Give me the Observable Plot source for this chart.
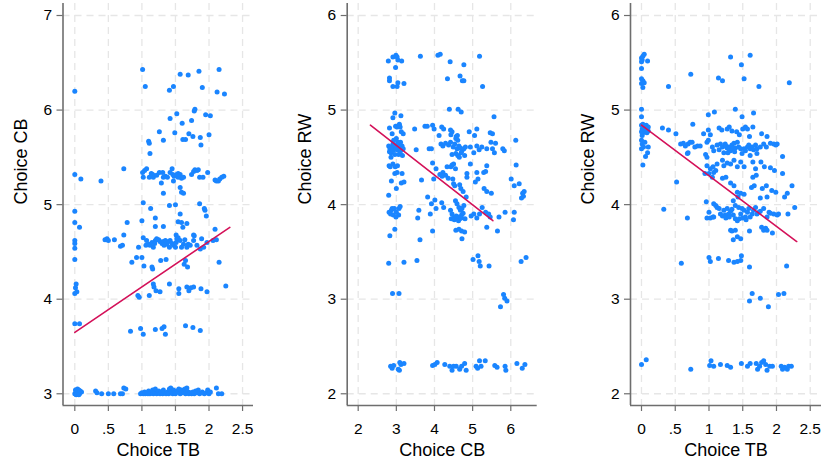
<!DOCTYPE html>
<html><head><meta charset="utf-8">
<script src="https://cdn.jsdelivr.net/npm/d3@7"></script>
<script src="https://cdn.jsdelivr.net/npm/@observablehq/plot@0.6"></script>
<style>
html,body{margin:0;padding:0;background:#fff;}
#chart{position:relative;width:823px;height:468px;overflow:hidden;background:#fff;}
#chart > div{position:absolute;top:0;}
</style></head><body><div id="chart"></div>
<script>
// ---- Panel 1: Choice TB (x) vs Choice CB (y)
const panel1_TB_CB = [
[1.01,6.43],[1.05,6.25],[1.57,6.38],[1.69,6.37],[1.85,6.41],[2.15,6.43],[1.41,6.21],[1.47,6.25],[1.90,6.24],[2.12,6.19],[2.23,6.17],[0,6.20],
[1.78,5.99],[1.79,6.01],[1.52,5.96],[1.95,5.95],[2.02,5.94],[1.42,5.91],[1.74,5.89],[1.60,5.86],[1.26,5.77],[1.49,5.76],[1.70,5.75],[1.76,5.72],[2.00,5.74],[1.87,5.71],[1.32,5.68],[1.10,5.67],[1.11,5.65],[1.61,5.69],[1.65,5.69],[1.88,5.63],[1.12,5.54],
[0.73,5.38],[0,5.32],[0.09,5.27],[0.39,5.25],
[1.01,5.34],[1.02,5.29],[1.04,5.36],[1.07,5.38],[1.11,5.29],[1.14,5.33],[1.16,5.32],[1.17,5.29],[1.22,5.31],[1.26,5.34],[1.29,5.23],[1.31,5.34],[1.32,5.29],[1.35,5.30],[1.38,5.29],[1.42,5.34],[1.45,5.38],[1.46,5.32],[1.47,5.25],[1.48,5.30],[1.52,5.32],[1.54,5.33],[1.57,5.32],[1.59,5.28],[1.62,5.29],[1.74,5.32],[1.77,5.35],[1.79,5.37],[1.82,5.36],[1.84,5.37],[1.86,5.29],[1.91,5.29],[1.98,5.34],[2.09,5.26],[2.11,5.25],[2.14,5.25],[2.16,5.27],[2.19,5.29],[2.22,5.30],[1.32,5.12],[1.57,5.18],[1.59,5.13],[1.62,5.12],[1.54,5.29],
[1.02,5.02],[1.50,5.00],[1.41,4.99],[1.86,5.01],[1.93,4.96],[1.94,4.94],[0,4.93],[1.13,4.96],[1.57,4.90],[1.20,4.86],[1.96,4.88],[1.00,4.83],[0.78,4.81],[0,4.81],[0.07,4.76],[1.54,4.82],[1.59,4.81],[1.67,4.80],[1.61,4.76],[1.32,4.77],[1.20,4.77],[2.09,4.74],[0.73,4.68],[1.77,4.68],[1.78,4.67],[1.51,4.68],[1.89,4.64],
[0.45,4.63],[0.48,4.64],[0.50,4.62],[0.59,4.63],[0.68,4.56],[0.71,4.57],[0.95,4.55],[0,4.62],[0,4.59],[0,4.54],
[1.02,4.65],[1.07,4.62],[1.10,4.58],[1.12,4.57],[1.15,4.60],[1.17,4.55],[1.20,4.62],[1.22,4.64],[1.25,4.63],[1.27,4.61],[1.30,4.59],[1.32,4.61],[1.35,4.62],[1.37,4.58],[1.40,4.61],[1.42,4.62],[1.45,4.59],[1.47,4.57],[1.50,4.55],[1.52,4.64],[1.54,4.65],[1.57,4.62],[1.62,4.58],[1.64,4.63],[1.67,4.55],[1.69,4.58],[1.72,4.57],[1.77,4.62],[1.82,4.57],[1.87,4.53],[1.92,4.55],[1.97,4.60],[2.06,4.62],[2.11,4.63],[1.06,4.57],[1.19,4.59],[1.33,4.57],[1.41,4.55],[1.51,4.60],[1.59,4.55],
[0,4.42],[0.85,4.39],[0.92,4.44],[1.00,4.44],[1.03,4.35],[1.15,4.34],[1.16,4.32],[1.28,4.41],[1.36,4.42],[1.65,4.41],[1.63,4.37],[1.68,4.34],[2.15,4.39],
[0.02,4.16],[0.01,4.12],[0.03,4.08],[0,4.06],[1.17,4.16],[1.18,4.13],[1.21,4.09],[1.27,4.08],[1.41,4.16],[1.55,4.11],[1.55,4.06],[1.67,4.13],[1.70,4.09],[1.73,4.12],[1.77,4.13],[1.88,4.11],[1.97,4.08],[2.25,4.14],[0.94,4.04],[0.96,4.02],[1.11,4.04],
[0,3.74],[0.07,3.74],[0.83,3.66],[0.98,3.69],[1.02,3.63],[1.20,3.68],[1.30,3.69],[1.33,3.71],[1.35,3.63],[1.65,3.72],[1.76,3.70],[1.87,3.67],
[0,3.00],[0.01,3.04],[0.02,3.02],[0.03,3.00],[0.04,3.05],[0.05,3.02],[0.06,3.04],[0.07,3.00],[0.08,3.03],[0.10,3.02],[0.02,2.99],[0.06,2.99],
[0.31,3.03],[0.33,3.01],[0.40,3.00],[0.50,3.00],[0.58,3.00],[0.68,3.00],[0.71,3.00],[0.73,3.06],[0.76,3.05],
[0.98,3.00],[1.00,3.01],[1.02,3.00],[1.04,3.02],[1.05,3.00],[1.07,3.01],[1.09,3.00],[1.10,3.03],[1.12,3.00],[1.14,3.01],[1.16,3.04],[1.17,3.00],[1.19,3.02],[1.20,3.05],[1.22,3.00],[1.24,3.01],[1.25,3.03],[1.27,3.00],[1.29,3.02],[1.31,3.00],[1.32,3.04],[1.34,3.01],[1.36,3.00],[1.38,3.02],[1.40,3.00],[1.41,3.05],[1.43,3.06],[1.44,3.02],[1.46,3.00],[1.47,3.04],[1.49,3.01],[1.50,3.00],[1.52,3.03],[1.54,3.02],[1.55,3.05],[1.57,3.00],[1.59,3.04],[1.60,3.01],[1.62,3.03],[1.64,3.05],[1.65,3.00],[1.67,3.06],[1.69,3.02],[1.70,3.00],[1.72,3.01],[1.74,3.00],[1.76,3.02],[1.78,3.00],[1.80,3.03],[1.82,3.01],[1.84,3.04],[1.86,3.00],[1.90,3.02],[1.93,3.00],[1.96,3.01],[1.98,3.04],[2.00,3.00],[2.02,3.02],[2.11,3.06],[2.14,3.00],[2.19,3.00]
];
const fit1_TB = [0, 2.31];
const fit1_CB = [3.65, 4.76];

// ---- Panel 2: Choice CB (x) vs Choice RW (y)
const panel2_CB_RW = [
[2.79,5.52],[2.91,5.56],[2.99,5.58],[3.02,5.56],[3.04,5.53],[3.14,5.52],[2.98,5.45],[2.82,5.34],[2.82,5.31],[2.91,5.25],[3.02,5.25],[3.04,5.29],[3.20,5.28],[3.63,5.57],[4.09,5.58],[4.15,5.59],[4.41,5.51],[4.77,5.48],[4.34,5.33],[4.67,5.36],[4.73,5.31],[4.77,5.31],[5.18,5.57],[5.26,5.25],
[2.96,4.97],[2.91,4.92],[3.12,4.94],[4.39,5.01],[4.62,5.01],[4.70,4.98],[5.56,4.93],
[2.82,4.81],[2.98,4.83],[3.02,4.82],[3.06,4.83],[3.08,4.85],[3.10,4.82],[2.89,4.75],[3.13,4.77],[3.18,4.75],[3.48,4.80],[3.75,4.83],[3.81,4.83],[3.95,4.84],[3.99,4.80],[4.12,4.73],[4.19,4.82],[4.24,4.80],[4.42,4.79],[4.46,4.77],[4.43,4.74],[4.91,4.77],[5.05,4.73],[5.11,4.80],[5.46,4.76],[5.52,4.75],[4.57,4.72],[4.60,4.73],
[2.80,4.62],[2.83,4.59],[2.86,4.55],[2.88,4.61],[2.91,4.64],[2.93,4.58],[2.96,4.53],[2.99,4.61],[3.02,4.58],[3.05,4.64],[3.06,4.53],[3.08,4.61],[3.11,4.66],[3.13,4.58],[3.15,4.62],[3.16,4.52],[3.18,4.59],[2.86,4.50],[2.93,4.68],[3.00,4.70],[2.82,4.56],[2.95,4.63],[3.04,4.66],[3.10,4.55],[2.89,4.57],
[3.52,4.58],[3.86,4.59],[3.92,4.59],[4.17,4.64],[4.22,4.62],[4.29,4.65],[4.37,4.63],[4.42,4.66],[4.49,4.61],[4.53,4.64],[4.59,4.59],[4.64,4.62],[4.68,4.60],[4.70,4.55],[4.72,4.57],[4.77,4.59],[4.81,4.61],
[4.56,4.70],[4.61,4.68],[5.11,4.62],[5.17,4.58],[5.24,4.61],[5.37,4.59],[5.52,4.59],[5.57,4.55],[5.48,4.66],[5.60,4.65],[5.79,4.59],[5.83,4.57],[6.13,4.68],
[4.56,4.54],[4.61,4.52],[4.46,4.53],[4.65,4.50],[4.79,4.52],[4.94,4.61],[5.03,4.55],
[2.81,4.41],[2.84,4.40],[2.91,4.43],[2.97,4.40],[3.03,4.41],[2.96,4.33],[3.02,4.34],[3.15,4.33],[3.95,4.44],[4.04,4.38],[4.33,4.40],[4.43,4.40],[4.46,4.42],[4.50,4.43],[4.55,4.38],[4.94,4.43],[5.37,4.41],[5.29,4.34],[5.34,4.35],[6.14,4.42],[4.14,4.32],[4.22,4.34],[4.29,4.31],[4.85,4.33],[4.85,4.29],[5.11,4.34],
[2.87,4.25],[3.00,4.17],[3.13,4.23],[3.20,4.24],[3.66,4.26],[3.98,4.27],[4.20,4.30],[4.36,4.28],[4.48,4.27],[4.50,4.22],[4.53,4.20],[4.66,4.21],[4.69,4.17],[4.75,4.14],[4.83,4.08],[5.07,4.24],[5.14,4.27],[5.30,4.17],[5.37,4.14],[5.49,4.12],[6.01,4.27],[6.09,4.20],[6.22,4.22],[6.31,4.12],[6.35,4.14],[6.28,4.07],[6.33,4.09],[2.80,4.10],
[2.81,3.92],[2.85,3.90],[2.87,3.94],[2.92,3.89],[2.95,3.96],[3.00,3.92],[3.06,3.89],[3.07,3.96],[3.10,3.98],[2.99,3.87],[2.89,3.96],
[3.59,3.94],[3.56,3.86],[3.82,4.08],[4.01,4.05],[3.92,4.01],[4.19,4.02],[4.04,3.96],[4.24,3.97],[3.89,3.90],[4.42,3.94],[4.46,3.90],[4.44,3.85],[4.50,3.86],
[4.55,4.04],[4.59,4.01],[4.64,3.97],[4.68,3.94],[4.71,3.89],[4.75,3.91],[4.62,3.87],[4.66,3.85],[4.72,3.96],[4.77,3.99],
[4.96,3.88],[5.03,3.90],[5.11,3.86],[5.18,3.90],[5.25,3.97],[5.34,3.92],[5.42,3.90],[5.46,3.87],[5.69,3.87],[5.85,3.92],[6.09,3.92],[6.07,3.84],
[4.52,3.84],[4.58,3.85],[4.63,3.83],[4.70,3.86],[4.80,3.85],[4.57,3.88],
[2.83,3.67],[2.96,3.74],[3.62,3.63],[3.95,3.72],[4.56,3.73],[4.64,3.74],[4.71,3.72],[4.79,3.71],[4.72,3.64],[5.37,3.76],[5.65,3.72],
[2.80,3.38],[3.20,3.39],[3.54,3.41],[5.01,3.42],[5.14,3.46],[5.17,3.40],[5.20,3.35],[5.43,3.35],[6.27,3.40],[6.40,3.44],
[2.90,3.06],[3.07,3.06],[5.81,3.05],[5.84,3.01],[5.90,2.98],[5.73,2.92],
[2.85,2.29],[2.89,2.27],[2.93,2.30],[3.05,2.26],[3.09,2.33],[3.12,2.31],[3.20,2.32],[3.08,2.25],[3.95,2.30],[4.01,2.31],[4.07,2.33],[4.27,2.31],[4.40,2.29],[4.46,2.25],[4.50,2.29],[4.57,2.29],[4.66,2.26],[4.71,2.29],[4.79,2.32],[4.83,2.25],[5.09,2.29],[5.13,2.27],[5.18,2.35],[5.22,2.29],[5.33,2.35],[5.58,2.30],[5.64,2.28],[5.85,2.29],[5.87,2.25],[6.16,2.32],[6.30,2.27],[6.37,2.31]
];
const fit2_CB = [2.32, 5.53];
const fit2_RW = [4.84, 3.83];

// ---- Panel 3: Choice TB (x) vs Choice RW (y)
const panel3_TB_RW = [
[0,5.55],[0.01,5.53],[0.02,5.57],[0.04,5.59],[0,5.51],[0.09,5.52],[0,5.44],[0,5.33],[0.02,5.31],[0.04,5.29],[0.02,5.24],[0,5.28],[0.73,5.38],[0.40,5.25],[1.32,5.56],[1.48,5.48],[1.61,5.58],[1.14,5.34],[1.20,5.31],[1.52,5.33],[1.74,5.25],[2.19,5.29],
[0,5.01],[0,4.93],[1.08,4.98],[1.39,5.01],[1.66,4.97],[0.99,4.95],[1.49,4.93],
[0,4.84],[0.02,4.85],[0.05,4.83],[0.07,4.84],[0.10,4.82],[0.01,4.80],[0.03,4.79],[0.06,4.78],[0.02,4.76],[0.08,4.76],[0.10,4.78],[0,4.77],[0.01,4.73],
[0.31,4.81],[0.40,4.79],[0.51,4.75],[0.76,4.85],[0.92,4.75],[0.99,4.79],[1.02,4.74],[1.15,4.81],[1.19,4.79],[1.27,4.80],[1.30,4.82],[1.34,4.78],[1.41,4.77],[1.45,4.74],[1.50,4.80],[1.54,4.82],[1.57,4.80],[1.65,4.82],[1.78,4.75],[1.86,4.72],[1.60,4.72],[0.97,4.66],[0.99,4.68],
[0,4.68],[0.01,4.64],[0.03,4.61],[0,4.59],[0.05,4.66],[0.10,4.61],[0.09,4.55],[0.06,4.51],[0.02,4.42],
[0.58,4.64],[0.62,4.65],[0.65,4.62],[0.69,4.64],[0.72,4.66],[0.75,4.66],[0.79,4.61],[0.69,4.55],[0.68,4.54],[0.83,4.62],[0.87,4.62],
[1.05,4.61],[1.07,4.57],[1.12,4.63],[1.15,4.58],[1.17,4.64],[1.20,4.61],[1.22,4.55],[1.24,4.64],[1.27,4.60],[1.29,4.61],[1.32,4.57],[1.34,4.63],[1.37,4.65],[1.39,4.60],[1.42,4.66],[1.44,4.61],[1.47,4.59],[1.49,4.54],[1.52,4.59],[1.54,4.57],[1.57,4.61],[1.59,4.63],[1.61,4.59],[1.64,4.61],[1.66,4.58],[1.69,4.63],[1.71,4.59],[1.76,4.61],[1.81,4.64],[1.85,4.61],[1.91,4.65],[1.96,4.64],[1.99,4.63],[2.01,4.64],[1.71,4.54],[1.61,4.52],
[0.95,4.53],[0.97,4.50],[1.25,4.62],[1.30,4.58],[1.35,4.60],[1.28,4.55],[1.38,4.56],
[0.97,4.41],[1.02,4.38],[1.06,4.40],[1.10,4.36],[1.12,4.43],[1.20,4.47],[1.22,4.41],[1.27,4.44],[0.94,4.33],[1.00,4.33],[1.05,4.29],[1.07,4.34],
[1.32,4.43],[1.37,4.47],[1.42,4.40],[1.47,4.45],[1.52,4.40],
[1.65,4.45],[1.69,4.38],[1.77,4.45],[1.82,4.40],[1.91,4.39],[1.97,4.36],[2.09,4.33],[1.20,4.28],[1.25,4.29],[1.65,4.29],[1.70,4.31],[2.09,4.51],
[0.52,4.24],[1.63,4.18],[1.67,4.20],[1.37,4.20],[1.32,4.23],[1.79,4.17],[1.85,4.20],[1.93,4.15],[1.99,4.13],[2.23,4.20],[2.16,4.12],[2.12,4.08],[1.86,4.08],[1.76,4.07],[1.42,4.13],[1.47,4.12],[1.52,4.11],[1.43,4.08],[1.36,4.04],[0.96,4.03],[0.33,3.95],[2.27,3.97],[2.17,3.90],
[1.00,3.92],[1.07,4.01],[1.10,3.99],[1.12,3.97],[1.15,3.96],[0.97,3.86],[1.02,3.86],[1.07,3.87],[1.17,3.90],[1.22,3.94],[1.24,3.89],[1.27,3.96],[1.29,3.90],[1.32,3.93],[1.34,3.95],[1.36,3.89],[1.39,3.99],[1.44,3.97],[1.47,3.90],[1.49,3.96],[1.52,3.94],[1.54,3.87],[1.57,3.92],[1.59,3.96],[1.61,3.87],[1.64,3.90],[1.66,3.94],[1.69,3.97],[1.71,3.90],[1.74,3.92],[1.76,3.93],[1.81,3.96],[1.86,3.87],[1.89,3.92],[1.91,3.91],[1.96,3.90],[2.01,3.89],[2.03,3.90],
[0.68,3.86],[1.06,3.87],[1.39,3.85],[1.42,3.83],[1.32,3.73],[1.34,3.72],[1.39,3.73],[1.36,3.63],[1.42,3.66],[1.47,3.64],[1.60,3.72],[1.78,3.76],[1.81,3.73],[1.84,3.75],[1.86,3.73],[1.94,3.70],
[1.25,3.86],[1.45,3.85],[1.50,3.86],[1.55,3.84],[1.30,3.87],[1.20,3.88],
[0.59,3.38],[1.00,3.44],[1.02,3.40],[1.14,3.43],[1.29,3.41],[1.37,3.39],[1.42,3.40],[1.47,3.41],[1.48,3.46],[1.60,3.34],[2.15,3.35],
[1.60,2.98],[1.64,3.06],[1.76,3.01],[1.88,2.92],[2.03,3.05],[2.11,3.06],
[0,2.31],[0.07,2.36],[0.73,2.26],[1.01,2.30],[1.03,2.35],[1.07,2.29],[1.17,2.31],[1.27,2.30],[1.32,2.28],[1.48,2.32],[1.57,2.29],[1.61,2.32],[1.70,2.32],[1.72,2.26],[1.75,2.29],[1.78,2.33],[1.81,2.35],[1.84,2.31],[1.86,2.25],[1.90,2.29],[1.94,2.29],[2.07,2.29],[2.09,2.26],[2.12,2.28],[2.16,2.26],[2.18,2.29],[2.22,2.29]
];
const fit3_TB = [0, 2.3];
const fit3_RW = [4.84, 3.61];

// ---- Tick values and labels
const tbTicks = [0, 0.5, 1, 1.5, 2, 2.5];
const tbTickLabels = ["0", ".5", "1", "1.5", "2", "2.5"];
const cbTicksX = [2, 3, 4, 5, 6];
const cbTickLabelsX = ["2", "3", "4", "5", "6"];
const cbTicksY = [3, 4, 5, 6, 7];
const rwTicks = [2, 3, 4, 5, 6];

const FONT = "'Liberation Sans', Arial, Helvetica, sans-serif";
const DOT = "#1a85ff";
const FIT = "#d41159";
const AXIS = "#6e6e6e";
const GRID = "#e6e6e6";

function panel(cfg) {
  const {pts, fitX, fitY, xDomain, yDomain, xTicks, xTickLabels, yTicks, width, ml, mr, xLabel, yLabel} = cfg;
  const fitData = fitX.map((x, i) => ({x, y: fitY[i]}));
  return Plot.plot({
    width, height: 468,
    marginLeft: ml, marginRight: mr, marginTop: 3, marginBottom: 63,
    style: {fontFamily: FONT, fontSize: "15.5px", color: "#000", background: "#fff", overflow: "visible"},
    x: {domain: xDomain},
    y: {domain: yDomain},
    marks: [
      Plot.gridX(xTicks, {stroke: GRID, strokeOpacity: 1, strokeWidth: 1.3, strokeDasharray: "7,5"}),
      Plot.gridY(yTicks, {stroke: GRID, strokeOpacity: 1, strokeWidth: 1.3, strokeDasharray: "7,5"}),
      Plot.dot(pts, {x: d => d[0], y: d => d[1], r: 2.5, fill: DOT, stroke: null}),
      Plot.line(fitData, {x: "x", y: "y", stroke: FIT, strokeWidth: 1.6}),
      Plot.ruleX([xDomain[0]], {stroke: AXIS, strokeWidth: 1.6}),
      Plot.ruleY([yDomain[0]], {stroke: AXIS, strokeWidth: 1.6}),
      Plot.axisX(xTicks, {tickSize: 6, tickPadding: 11, stroke: AXIS, strokeWidth: 1.2, fill: "#000", fontSize: 15.5,
        tickFormat: d => xTickLabels[xTicks.indexOf(d)], label: null}),
      Plot.axisY(yTicks, {tickSize: 6, tickPadding: 5, stroke: AXIS, strokeWidth: 1.2, fill: "#000", fontSize: 15.5,
        tickFormat: d => String(d), label: null}),
      Plot.text([xLabel], {text: d => d, frameAnchor: "bottom", dy: 50, fontSize: 18, fill: "#000"}),
      Plot.text([yLabel], {text: d => d, frameAnchor: "left", dx: -42, rotate: -90, fontSize: 18, fill: "#000"})
    ]
  });
}

const chart = document.getElementById("chart");
const specs = [
  {left: 0, cfg: {pts: panel1_TB_CB, fitX: fit1_TB, fitY: fit1_CB, xDomain: [-0.176, 2.663], yDomain: [2.876, 7.127],
    xTicks: tbTicks, xTickLabels: tbTickLabels, yTicks: cbTicksY, width: 270, ml: 62.5, mr: 17, xLabel: "Choice TB", yLabel: "Choice CB"}},
  {left: 270, cfg: {pts: panel2_CB_RW, fitX: fit2_CB, fitY: fit2_RW, xDomain: [1.712, 6.692], yDomain: [1.876, 6.127],
    xTicks: cbTicksX, xTickLabels: cbTickLabelsX, yTicks: rwTicks, width: 280, ml: 76.7, mr: 13.3, xLabel: "Choice CB", yLabel: "Choice RW"}},
  {left: 550, cfg: {pts: panel3_TB_RW, fitX: fit3_TB, fitY: fit3_RW, xDomain: [-0.163, 2.667], yDomain: [1.876, 6.127],
    xTicks: tbTicks, xTickLabels: tbTickLabels, yTicks: rwTicks, width: 273, ml: 80, mr: 2, xLabel: "Choice TB", yLabel: "Choice RW"}}
];
for (const s of specs) {
  const wrap = document.createElement("div");
  wrap.style.left = s.left + "px";
  wrap.appendChild(panel(s.cfg));
  chart.appendChild(wrap);
}
</script></body></html>
